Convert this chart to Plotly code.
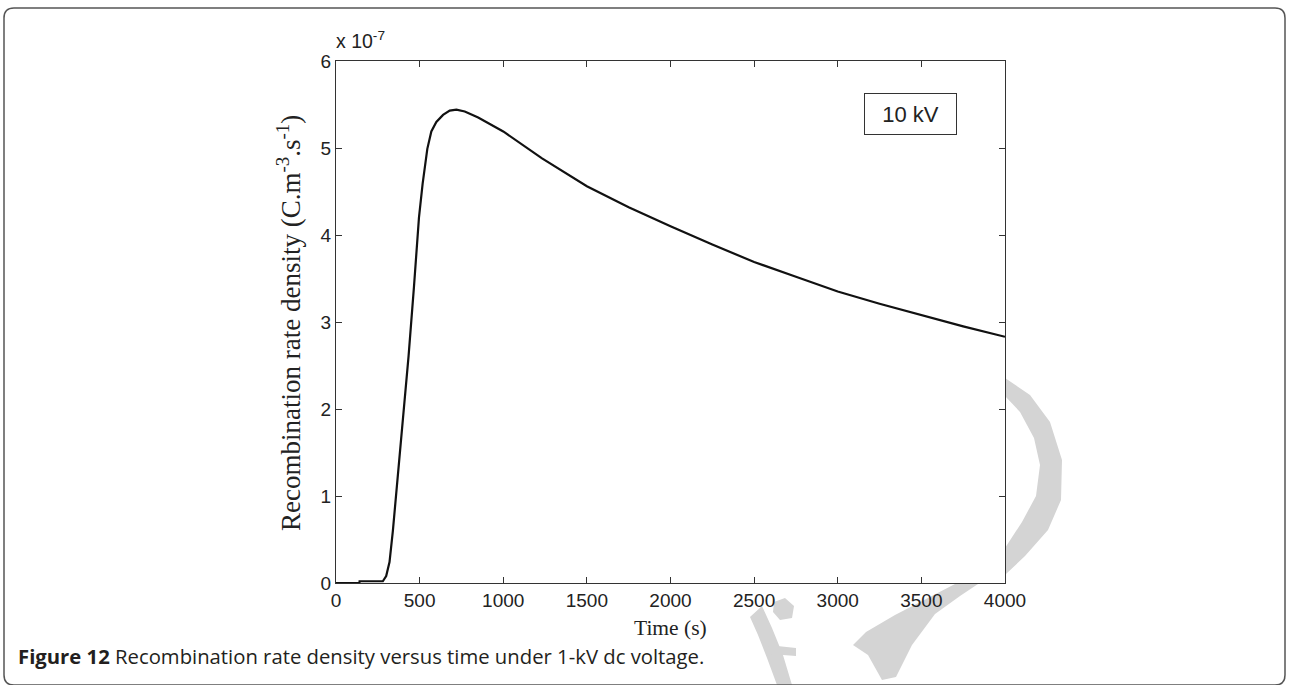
import plotly.graph_objects as go

# ---- data ----
time_s = [0, 140, 141, 280, 300, 320, 340, 360, 380, 400, 434, 466, 496, 518, 546,
          570, 600, 640, 680, 720, 770, 850, 1000, 1232, 1500, 1750, 2000, 2250,
          2500, 2750, 3000, 3250, 3500, 3750, 4000]
rate_e7 = [0, 0, 0.02, 0.02, 0.08, 0.24, 0.6, 1.03, 1.42, 1.82, 2.61, 3.40, 4.20, 4.59,
           4.99, 5.19, 5.30, 5.38, 5.43, 5.44, 5.42, 5.35, 5.19, 4.88, 4.56, 4.32,
           4.10, 3.89, 3.69, 3.52, 3.35, 3.21, 3.08, 2.95, 2.83]
x_ticks = [0, 500, 1000, 1500, 2000, 2500, 3000, 3500, 4000]
y_ticks = [0, 1, 2, 3, 4, 5, 6]
y_ticktext = ["0", "1", "2", "3", "4", "5", "6"]
label_box = "10 kV"
caption_bold = "Figure 12"
caption_rest = " Recombination rate density versus time under 1-kV dc voltage."

W, H = 1289, 685
L, R, T, B = 336, 1005, 61, 583  # plot area in pixels


def px(x):
    return (x - L) / (R - L)


def py(y):
    return (B - y) / (B - T)


def path(points, close=True):
    s = "M " + " L ".join(f"{px(x):.5f},{py(y):.5f}" for x, y in points)
    return s + (" Z" if close else "")


fig = go.Figure()
fig.add_trace(go.Scatter(x=time_s, y=rate_e7, mode="lines",
                         line=dict(color="#111111", width=2.2), showlegend=False,
                         hoverinfo="skip"))

axis_common = dict(showline=True, linecolor="#333333", linewidth=1, mirror="ticks",
                   ticks="inside", ticklen=6, tickcolor="#333333", tickwidth=1,
                   showgrid=False, zeroline=False,
                   tickfont=dict(family="Liberation Sans, Arial", size=19, color="#222222"))

fig.update_xaxes(range=[0, 4000], tickvals=x_ticks, **axis_common)
fig.update_yaxes(range=[0, 6], tickvals=y_ticks, ticktext=y_ticktext, **axis_common)

shapes = []
# watermark (light grey decorations outside the plot area)
wm = "#d4d4d4"
wm_shapes = [
    [(1005, 378), (1030, 395), (1050, 422), (1062, 460), (1061, 500), (1048, 530),
     (1025, 556), (1006, 574), (1005, 548), (1022, 522), (1036, 496), (1040, 465),
     (1034, 438), (1020, 412), (1005, 396)],
    [(978, 584), (955, 584), (928, 598), (895, 615), (866, 632), (853, 645), (868, 655),
     (882, 680), (896, 677), (912, 645), (935, 614), (960, 596)],
    [(750, 617), (762, 606), (772, 628), (783, 655), (792, 685), (777, 685), (767, 658),
     (758, 635)],
    [(774, 602), (785, 598), (794, 606), (792, 618), (780, 620), (773, 612)],
    [(768, 645), (796, 648), (796, 656), (770, 654)],
]
for pts in wm_shapes:
    shapes.append(dict(type="path", xref="paper", yref="paper", path=path(pts),
                       fillcolor=wm, line=dict(width=0), layer="below"))

# page frame with rounded corners
fx0, fx1, fy0, fy1, r = 4, 1285, 8, 685, 10
frame = (f"M {px(fx0):.5f},{py(fy0 + r):.5f} "
         f"Q {px(fx0):.5f},{py(fy0):.5f} {px(fx0 + r):.5f},{py(fy0):.5f} "
         f"L {px(fx1 - r):.5f},{py(fy0):.5f} "
         f"Q {px(fx1):.5f},{py(fy0):.5f} {px(fx1):.5f},{py(fy0 + r):.5f} "
         f"L {px(fx1):.5f},{py(fy1 - r):.5f} "
         f"Q {px(fx1):.5f},{py(fy1):.5f} {px(fx1 - r):.5f},{py(fy1):.5f} "
         f"L {px(fx0 + r):.5f},{py(fy1):.5f} "
         f"Q {px(fx0):.5f},{py(fy1):.5f} {px(fx0):.5f},{py(fy1 - r):.5f} Z")
shapes.append(dict(type="path", xref="paper", yref="paper", path=frame,
                   line=dict(color="#555555", width=1.5), fillcolor="rgba(0,0,0,0)",
                   layer="below"))

annotations = [
    dict(text="x 10<sup>-7</sup>", xref="paper", yref="paper", x=px(334), y=py(54),
         xanchor="left", yanchor="bottom", showarrow=False,
         font=dict(family="Liberation Sans, Arial", size=19.5, color="#222222")),
    dict(text="Recombination rate density (C.m<sup>-3</sup>.s<sup>-1</sup>)",
         xref="paper", yref="paper", x=px(289), y=py(323), textangle=-90,
         xanchor="center", yanchor="middle", showarrow=False,
         font=dict(family="Liberation Serif, Times New Roman", size=27, color="#222222")),
    dict(text="Time (s)", xref="paper", yref="paper", x=0.5, y=py(628),
         xanchor="center", yanchor="middle", showarrow=False,
         font=dict(family="Liberation Serif, Times New Roman", size=21.5, color="#222222")),
    dict(text=label_box, xref="paper", yref="paper", x=px(910.5), y=py(114),
         xanchor="center", yanchor="middle", showarrow=False, width=91, height=40,
         bordercolor="#333333", borderwidth=1, borderpad=0, bgcolor="white",
         font=dict(family="Liberation Sans, Arial", size=22, color="#222222")),
    dict(text=f"<b>{caption_bold}</b>{caption_rest}", xref="paper", yref="paper",
         x=px(16), y=py(656), xanchor="left", yanchor="middle", showarrow=False,
         font=dict(family="Open Sans, Noto Sans", size=20.3, color="#231f20")),
]

fig.update_layout(width=W, height=H, margin=dict(l=L, r=W - R, t=T, b=H - B),
                  paper_bgcolor="white", plot_bgcolor="white",
                  shapes=shapes, annotations=annotations, showlegend=False)

fig.write_html("out.html", config={"displayModeBar": False},
               post_script="document.body.style.margin='0';document.body.style.overflow='hidden';")
